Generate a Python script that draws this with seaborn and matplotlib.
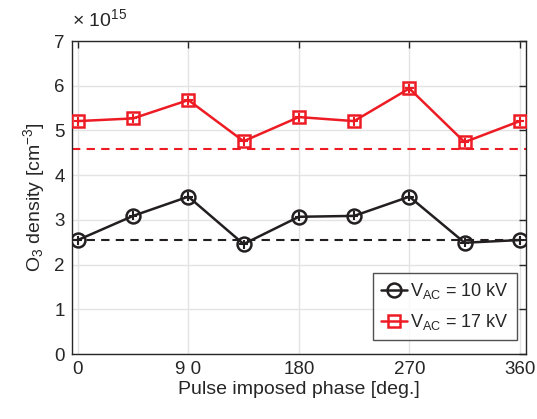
import numpy as np
import pandas as pd
import matplotlib
matplotlib.use('Agg')
import matplotlib.pyplot as plt
import seaborn as sns

# data (O3 density in units of 1e15 cm^-3)
phase = [0, 45, 90, 135, 180, 225, 270, 315, 360]
o3_10kv = [2.55, 3.09, 3.52, 2.46, 3.07, 3.09, 3.52, 2.49, 2.55]
o3_17kv = [5.21, 5.27, 5.68, 4.76, 5.30, 5.21, 5.94, 4.74, 5.21]
err_10kv = [0.1] * 9
err_17kv = [0.1] * 9
ref_10kv = 2.56
ref_17kv = 4.59
labels = ['V$_{AC}$ = 10 kV', 'V$_{AC}$ = 17 kV']
colors = ['#231f20', '#ed1c24']
markers = ['o', 's']

sns.set_theme(style='whitegrid')
plt.rcParams['font.family'] = ['Liberation Sans', 'DejaVu Sans']
plt.rcParams['mathtext.fontset'] = 'custom'
plt.rcParams['mathtext.rm'] = 'Liberation Sans'
plt.rcParams['mathtext.it'] = 'Liberation Sans'

fig = plt.figure(figsize=(5.37, 4.19), dpi=100)
ax = fig.add_axes([0.1335, 0.155, 0.846, 0.747])

# reference lines
ax.axhline(ref_10kv, color=colors[0], ls=(0, (4, 3)), lw=1.5, zorder=2)
ax.axhline(ref_17kv, color=colors[1], ls=(0, (4, 3)), lw=1.5, zorder=2)

series = [(o3_10kv, err_10kv), (o3_17kv, err_17kv)]
for i, (vals, err) in enumerate(series):
    sns.lineplot(x=phase, y=vals, color=colors[i], marker=markers[i],
                 markersize=10 if i == 0 else 8.5, markerfacecolor='none',
                 markeredgecolor=colors[i], markeredgewidth=1.8,
                 lw=1.8, label=labels[i], legend=False, ax=ax, zorder=3)
    ax.errorbar(phase, vals, yerr=err, xerr=3.5, fmt='none',
                ecolor=colors[i], elinewidth=1.5, capsize=0, zorder=4)

ax.set_xlim(-5, 365)
ax.set_ylim(0, 7)
ax.set_xticks([0, 90, 180, 270, 360])
ax.set_xticklabels(['0', '9 0', '180', '270', '360'])
ax.set_yticks(range(0, 8))
ax.set_xlabel('Pulse imposed phase [deg.]', fontsize=14, color='#262626', labelpad=2)
ax.set_ylabel('O$_3$ density [cm$^{-3}$]', fontsize=14, color='#262626', labelpad=5)
ax.tick_params(axis='both', labelsize=13.5, colors='#262626', direction='in',
               length=5, width=1, top=True, right=True, pad=5)
ax.grid(True, color='#e3e3e3', lw=1)
for s in ax.spines.values():
    s.set_color('#262626')
    s.set_linewidth(1)

ax.text(0.0, 1.035, r'$\times$ 10$^{15}$', transform=ax.transAxes,
        fontsize=14, color='#262626', ha='left', va='bottom')

handles = [ln for ln in ax.get_lines() if ln.get_label() in labels]
leg = ax.legend(handles=handles, labels=labels, loc='lower right',
                bbox_to_anchor=(0.98, 0.045), fontsize=13, frameon=True,
                fancybox=False, edgecolor='#262626', handlelength=1.4,
                handletextpad=0.2, borderpad=0.45, labelspacing=0.6,
                borderaxespad=0)
leg.get_frame().set_linewidth(1)

fig.savefig('out.png', dpi=100)
